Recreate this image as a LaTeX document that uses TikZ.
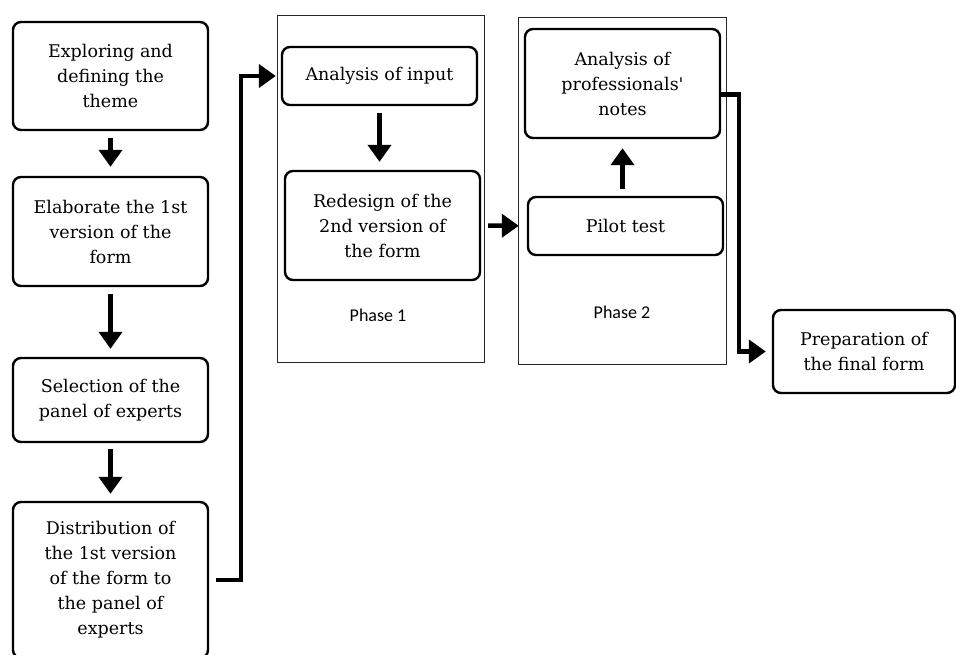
\documentclass[tikz,border=0pt]{standalone}
\usepackage{fontspec}
\newfontfamily\boxfont{DejaVu Serif}
\newfontfamily\phasefont{Carlito}
\usetikzlibrary{arrows.meta}

\begin{document}
\begin{tikzpicture}[x=1pt,y=1pt]
				\tikzstyle{stage}=[draw=black, line width=2.4pt, rounded corners=8pt, align=center, font=\boxfont\fontsize{17.5}{25}\selectfont, inner sep=0pt, minimum width=195pt]
				\tikzstyle{frame}=[draw=black!85, line width=0.8pt, inner sep=0pt]
				\tikzstyle{phaselabel}=[font=\phasefont\fontsize{18}{20}\selectfont]
				\tikzstyle{flow}=[line width=4.5pt, -{Triangle[length=17pt,width=23pt]}]
				\useasboundingbox (0,0) rectangle (956,-655);
				\clip (0,0) rectangle (956,-655);
				\node [frame, minimum width=207pt, minimum height=347pt] (phaseone) at (380.5,-188.5) {};
				\node [frame, minimum width=208pt, minimum height=347pt] (phasetwo) at (622,-190.5) {};
				\node [stage, minimum height=108pt] (explore) at (110.5,-76) {Exploring and\\defining the\\theme};
				\node [stage, minimum height=109pt] (elab) at (110.5,-231.5) {Elaborate the 1st\\version of the\\form};
				\node [stage, minimum height=84pt] (panel) at (110.5,-400) {Selection of the\\panel of experts};
				\node [stage, minimum height=156pt] (distrib) at (110.5,-580) {Distribution of\\the 1st version\\of the form to\\the panel of\\experts};
				\node [stage, minimum height=58pt] (input) at (379.5,-76) {Analysis of input};
				\node [stage, minimum height=109pt] (redesign) at (382.5,-225.5) {Redesign of the\\2nd version of\\the form};
				\node [phaselabel] (labelone) at (378,-315) {Phase 1};
				\node [stage, minimum height=109pt] (notes) at (622.5,-83.5) {Analysis of\\professionals'\\notes};
				\node [stage, minimum height=58pt] (pilot) at (625.5,-226) {Pilot test};
				\node [phaselabel] (labeltwo) at (622,-312) {Phase 2};
				\node [stage, minimum width=182pt, minimum height=83pt] (final) at (864,-351.5) {Preparation of\\the final form};
				\draw [flow, shorten <=7pt, shorten >=9pt] (explore) -- (elab);
				\draw [flow, shorten <=7pt, shorten >=8pt] (elab) -- (panel);
				\draw [flow, shorten <=6pt, shorten >=7pt] (panel) -- (distrib);
				\draw [flow, shorten <=7pt, shorten >=8pt] (input.south) -- (input.south |- redesign.north);
				\draw [flow, shorten <=7pt, shorten >=8pt] (redesign) -- (pilot);
				\draw [flow, shorten <=7pt, shorten >=9pt] (pilot.north -| notes.south) -- (notes.south);
				\draw [flow, shorten <=7pt, shorten >=5pt] (distrib.east) -- ++(32,0) |- (input.west);
				\draw [flow, shorten >=6pt] ([yshift=-11pt]notes.east) -- ++(18,0) |- (final.west);
			\end{tikzpicture}
\end{document}
